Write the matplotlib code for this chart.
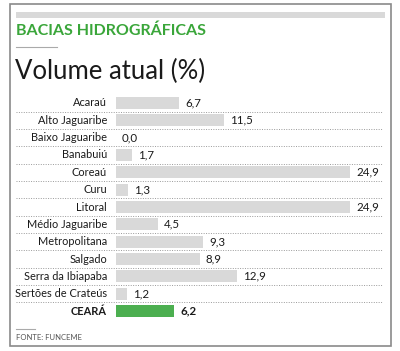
import matplotlib
matplotlib.use("Agg")
import matplotlib.pyplot as plt
from matplotlib.patches import Rectangle
from matplotlib.lines import Line2D

# dados
regioes = ["Acaraú", "Alto Jaguaribe", "Baixo Jaguaribe", "Banabuiú", "Coreaú", "Curu",
           "Litoral", "Médio Jaguaribe", "Metropolitana", "Salgado", "Serra da Ibiapaba",
           "Sertões de Crateús", "CEARÁ"]
volume = [6.7, 11.5, 0.0, 1.7, 24.9, 1.3, 24.9, 4.5, 9.3, 8.9, 12.9, 1.2, 6.2]

W, H = 400, 351
plt.rcParams["font.family"] = ["Lato", "DejaVu Sans"]

fig = plt.figure(figsize=(W / 100, H / 100), dpi=100)

def px(x, y):
    return x / W, 1 - y / H

# moldura e faixa cinza do topo
fig.patches.append(Rectangle(px(10, 346), 381 / W, 342 / H, transform=fig.transFigure,
                             fill=False, edgecolor="#8a8a8a", lw=1.2))
fig.patches.append(Rectangle(px(16, 18), 369 / W, 6 / H, transform=fig.transFigure,
                             facecolor="#d9d9d9", edgecolor="none"))

fig.text(*px(16, 31), "BACIAS HIDROGRÁFICAS", color="#3aa63a", fontsize=11.5,
         fontweight="bold", va="center", ha="left")
fig.lines.append(Line2D([16 / W, 57 / W], [1 - 47 / H] * 2, transform=fig.transFigure,
                        color="#aaaaaa", lw=0.8))
fig.text(*px(15, 71), "Volume atual (%)", color="#1a1a1a", fontsize=18.5,
         fontweight="normal", va="center", ha="left")

# eixo das barras
top, bottom = 94.3, 319.7
x0, x1 = 116, 383
scale = (350 - 116) / 24.9
ax = fig.add_axes([x0 / W, 1 - bottom / H, (x1 - x0) / W, (bottom - top) / H])
ax.set_xlim(0, (x1 - x0) / scale)
ax.set_ylim(len(regioes) - 0.5, -0.5)
ax.axis("off")

ypos = list(range(len(regioes)))
cores = ["#d9d9d9"] * (len(regioes) - 1) + ["#4caf50"]
ax.barh(ypos, volume, height=0.68, color=cores)

for i in range(len(regioes) - 1):
    ax.hlines(i + 0.5, (16 - x0) / scale, (382 - x0) / scale, colors="#9a9a9a",
              linestyles=(0, (1, 1.5)), lw=0.7, clip_on=False)

for i, (nome, v) in enumerate(zip(regioes, volume)):
    negrito = "bold" if nome == "CEARÁ" else "normal"
    ax.text(-9 / scale, i, nome, ha="right", va="center", fontsize=7.9,
            color="#1a1a1a", fontweight=negrito)
    ax.text(v + 6 / scale, i, f"{v:.1f}".replace(".", ","), ha="left", va="center",
            fontsize=8.3, color="#1a1a1a", fontweight=negrito)

fig.lines.append(Line2D([16 / W, 35 / W], [1 - 329 / H] * 2, transform=fig.transFigure,
                        color="#aaaaaa", lw=0.8))
fig.text(*px(16, 338), "FONTE: FUNCEME", color="#555555", fontsize=5.5,
         va="center", ha="left")

fig.savefig("out.png", dpi=100)
